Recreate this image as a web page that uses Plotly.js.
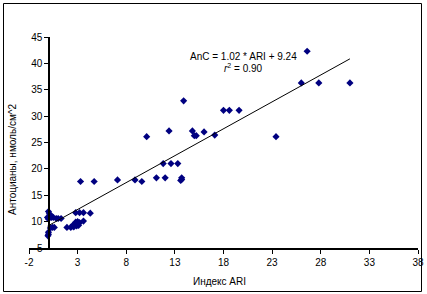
<!DOCTYPE html>
<html>
<head>
<meta charset="utf-8">
<script src="https://cdn.plot.ly/plotly-3.0.1.min.js"></script>
<style>
  html, body { margin: 0; padding: 0; background: #fff; }
  #chart { width: 427px; height: 294px; }
</style>
</head>
<body>
<div id="chart"></div>
<script>
// ---- data ----
const ariIndex = [
  0.0, 0.1, 0.2, -0.1, 0.3, 0.0, 0.5, 0.8, 1.0, 1.3, 0.2,
  0.2, 0.4, 0.6, 0.0, 0.0, -0.05,
  1.9, 2.3, 2.6, 2.5, 2.9, 3.1, 2.8, 3.0, 3.2, 3.6,
  2.8, 3.2, 3.6, 4.3,
  3.3, 4.7, 7.1, 8.9, 9.6,
  11.1, 12.0, 11.8, 12.6, 13.3, 13.7, 13.7, 13.6,
  10.1, 12.4, 13.9, 14.8, 15.0, 15.2, 16.0, 17.1, 18.0, 18.6, 19.6,
  23.4, 26.0, 26.6, 27.8, 31.0
];
const anthocyanins = [
  11.9, 11.5, 11.2, 10.8, 10.8, 10.5, 10.8, 10.6, 10.6, 10.6, 11.0,
  8.8, 8.9, 8.9, 8.0, 7.6, 7.3,
  8.9, 8.9, 9.0, 9.3, 9.2, 9.3, 9.9, 10.0, 9.8, 10.1,
  11.7, 11.7, 11.7, 11.6,
  17.6, 17.6, 17.9, 17.9, 17.6,
  18.3, 18.3, 21.0, 21.0, 21.0, 18.3, 18.0, 17.8,
  26.1, 27.2, 32.9, 27.2, 26.3, 26.3, 27.0, 26.4, 31.1, 31.1, 31.1,
  26.1, 36.3, 42.3, 36.3, 36.3
];
const slope = 1.02;
const intercept = 9.24;
const rSquared = 0.90;
const xTickLabels = ["-2", "3", "8", "13", "18", "23", "28", "33", "38"];
const yTickLabels = ["5", "10", "15", "20", "25", "30", "35", "40", "45"];
const xTitle = "Индекс ARI";
const yTitle = "Антоцианы, нмоль/см^2";

// ---- geometry helpers ----
const W = 427, H = 294;
const M = { l: 29, r: 9, t: 37, b: 46 };
const PW = W - M.l - M.r, PH = H - M.t - M.b;
const px = x => (x - M.l) / PW;
const py = y => (H - M.b - y) / PH;

const xMin = Math.min(...ariIndex), xMax = Math.max(...ariIndex);
const fitX = [xMin, xMax];
const fitY = fitX.map(v => slope * v + intercept);

const font = { family: "Arial, 'Liberation Sans', sans-serif", size: 10, color: "#000" };

const traces = [
  {
    type: "scatter", mode: "markers", x: ariIndex, y: anthocyanins,
    marker: { symbol: "diamond", size: 5.5, color: "#000080", line: { width: 0 } },
    hoverinfo: "x+y", showlegend: false
  },
  {
    type: "scatter", mode: "lines", x: fitX, y: fitY,
    line: { color: "#000", width: 1 }, hoverinfo: "skip", showlegend: false
  }
];

const xTickVals = xTickLabels.map(Number);
const yTickVals = yTickLabels.map(Number);

const layout = {
  width: W, height: H,
  margin: M,
  paper_bgcolor: "#fff", plot_bgcolor: "#fff",
  font: font,
  showlegend: false,
  xaxis: {
    range: [-2, 38], tickvals: xTickVals, ticktext: xTickLabels,
    ticks: "outside", ticklen: 4, tickcolor: "#000", tickwidth: 1,
    showline: true, linecolor: "#000", linewidth: 1.5,
    showgrid: false, zeroline: false, tickfont: font
  },
  yaxis: {
    range: [5, 45], tickvals: yTickVals, ticktext: yTickLabels,
    anchor: "free", position: 2 / 40,
    ticks: "outside", ticklen: 4, tickcolor: "#000", tickwidth: 1,
    showline: true, linecolor: "#000", linewidth: 1.5,
    showgrid: false, zeroline: false, tickfont: font
  },
  shapes: [
    {
      type: "rect", xref: "paper", yref: "paper",
      x0: px(3.5), x1: px(421.5), y0: py(291.5), y1: py(3.5),
      line: { color: "#000", width: 1 }, fillcolor: "rgba(0,0,0,0)", layer: "below"
    }
  ],
  annotations: [
    {
      xref: "paper", yref: "paper", x: px(243), y: py(56),
      text: "AnC = " + slope.toFixed(2) + " * ARI + " + intercept.toFixed(2),
      showarrow: false, font: font, xanchor: "center", yanchor: "middle"
    },
    {
      xref: "paper", yref: "paper", x: px(243), y: py(68),
      text: "<i>r</i><sup>2</sup> = " + rSquared.toFixed(2),
      showarrow: false, font: font, xanchor: "center", yanchor: "middle"
    },
    {
      xref: "paper", yref: "paper", x: px(219), y: py(281),
      text: xTitle, showarrow: false, font: font, xanchor: "center", yanchor: "middle"
    },
    {
      xref: "paper", yref: "paper", x: px(12), y: py(160),
      text: yTitle, textangle: -90, showarrow: false, font: font,
      xanchor: "center", yanchor: "middle"
    }
  ]
};

Plotly.newPlot("chart", traces, layout, { staticPlot: true, displayModeBar: false });
</script>
</body>
</html>
